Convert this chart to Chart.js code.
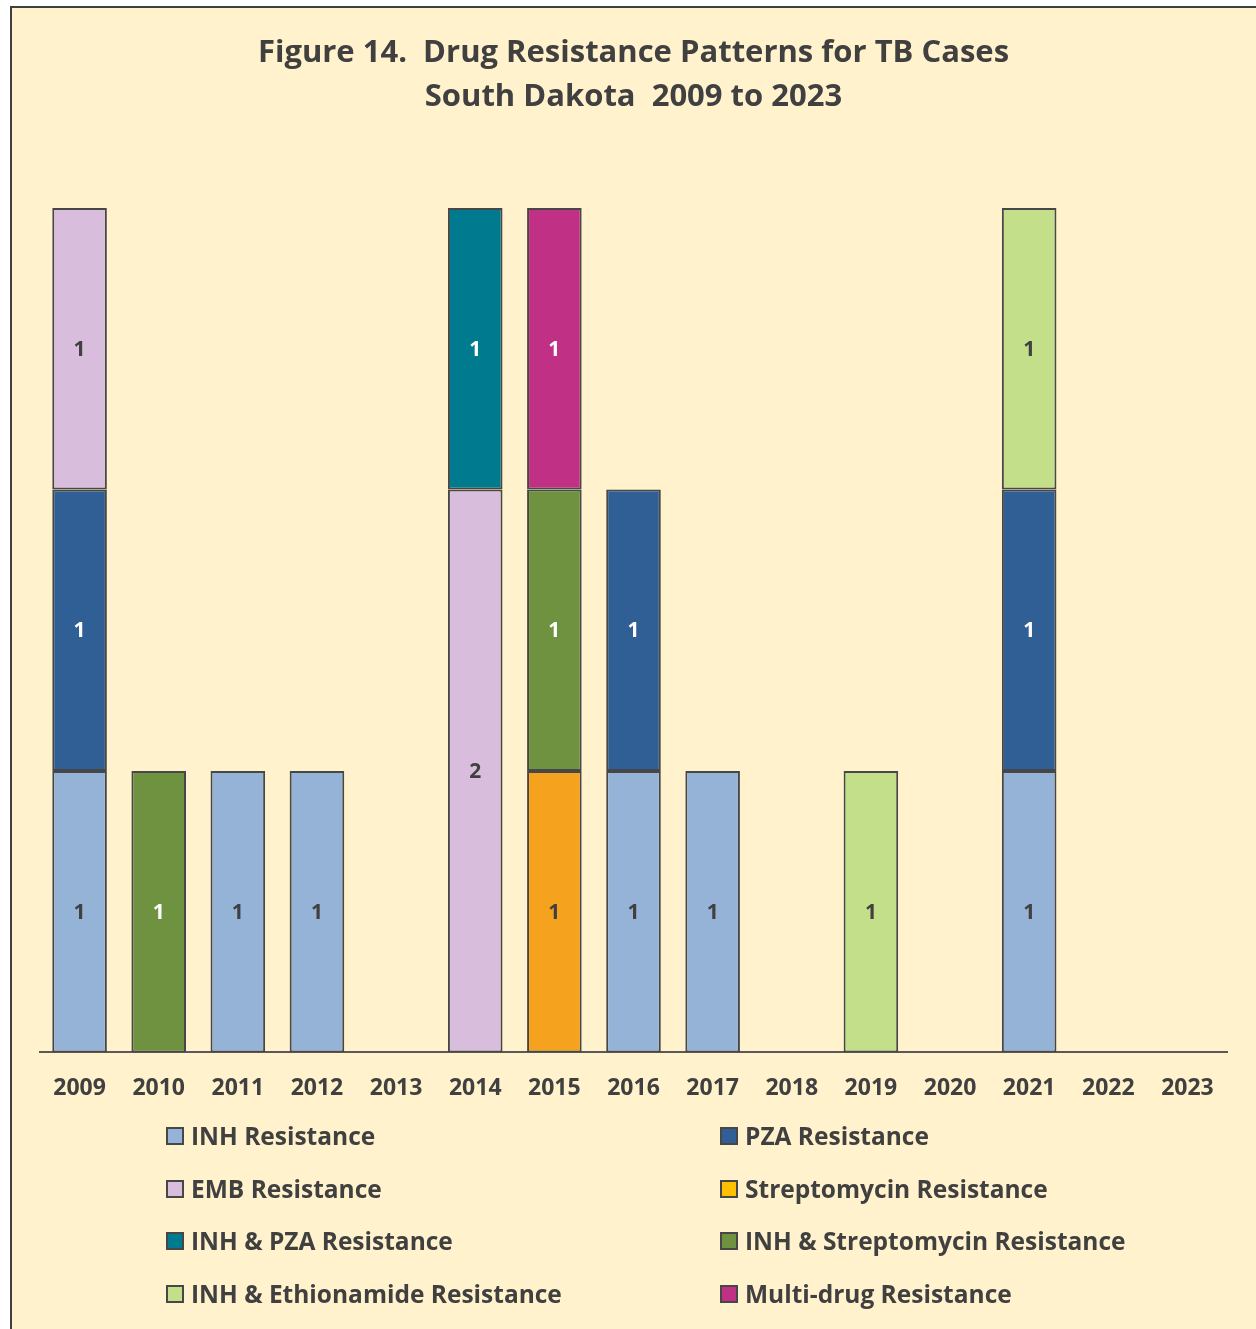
<!DOCTYPE html>
<html>
<head>
<meta charset="utf-8">
<script src="https://cdn.jsdelivr.net/npm/chart.js@4"></script>
<style>
  html, body { margin: 0; padding: 0; background: #ffffff; overflow: hidden; }
  #frame { position: absolute; left: 10px; top: 6px; width: 1300px; height: 1400px;
           border: 2px solid #404040; background: #FFF2CC; }
  #wrap { position: absolute; left: 0; top: 0; width: 1256px; height: 1329px; }
</style>
</head>
<body>
<div id="frame"></div>
<div id="wrap"><canvas id="chart" width="1256" height="1329"></canvas></div>
<script>
const years = ['2009','2010','2011','2012','2013','2014','2015','2016','2017','2018','2019','2020','2021','2022','2023']

const inh      = [1, null, 1, 1, null, null, null, 1, 1, null, null, null, 1, null, null]
const pza      = [1, null, null, null, null, null, null, 1, null, null, null, null, 1, null, null]
const emb      = [1, null, null, null, null, 2, null, null, null, null, null, null, null, null, null]
const strep    = [null, null, null, null, null, null, 1, null, null, null, null, null, null, null, null]
const inhPza   = [null, null, null, null, null, 1, null, null, null, null, null, null, null, null, null]
const inhStrep = [null, 1, null, null, null, null, 1, null, null, null, null, null, null, null, null]
const inhEth   = [null, null, null, null, null, null, null, null, null, null, 1, null, 1, null, null]
const multi    = [null, null, null, null, null, null, 1, null, null, null, null, null, null, null, null]

const FONT = '"Open Sans", Lato, sans-serif'
const TEXT = '#404040'

const mk = (label, data, color, labelColor, legendColor) => ({
  label, data,
  backgroundColor: color,
  borderColor: '#474747',
  borderWidth: 2,
  borderSkipped: false,
  barPercentage: 0.69,
  categoryPercentage: 1,
  labelColor,
  legendColor: legendColor || color
})

const datasets = [
  mk('INH Resistance', inh, '#95B3D7', TEXT),
  mk('PZA Resistance', pza, '#2F5F94', '#ffffff'),
  mk('EMB Resistance', emb, '#D8BDDD', TEXT),
  mk('Streptomycin Resistance', strep, '#F5A21E', TEXT, '#FFC000'),
  mk('INH & PZA Resistance', inhPza, '#007A8E', '#ffffff'),
  mk('INH & Streptomycin Resistance', inhStrep, '#6F9241', '#ffffff'),
  mk('INH & Ethionamide Resistance', inhEth, '#C3DF8A', TEXT),
  mk('Multi-drug Resistance', multi, '#C03084', '#ffffff')
]

// values drawn in the middle of each segment
const valueLabels = {
  id: 'valueLabels',
  afterDatasetsDraw(chart) {
    const ctx = chart.ctx
    ctx.save()
    ctx.font = 'bold 21px ' + FONT
    ctx.textAlign = 'center'
    ctx.textBaseline = 'middle'
    chart.data.datasets.forEach((ds, i) => {
      chart.getDatasetMeta(i).data.forEach((bar, j) => {
        const v = ds.data[j]
        if (v == null) return
        ctx.fillStyle = ds.labelColor
        ctx.fillText(String(v), bar.x, (bar.y + bar.base) / 2 + 1)
      })
    })
    ctx.restore()
  }
}

// two column legend under the axis
const gridLegend = {
  id: 'gridLegend',
  afterDraw(chart) {
    const ctx = chart.ctx
    const colX = [167, 721]
    const rowY = [1136, 1189, 1241, 1294]
    ctx.save()
    ctx.font = 'bold 24.5px ' + FONT
    ctx.textBaseline = 'middle'
    ctx.textAlign = 'left'
    chart.data.datasets.forEach((ds, i) => {
      const x = colX[i % 2], y = rowY[Math.floor(i / 2)]
      ctx.fillStyle = ds.legendColor
      ctx.fillRect(x, y - 8, 16, 16)
      ctx.lineWidth = 2
      ctx.strokeStyle = '#474747'
      ctx.strokeRect(x, y - 8, 16, 16)
      ctx.fillStyle = TEXT
      ctx.fillText(ds.label, x + 24, y + 2)
    })
    ctx.restore()
  }
}

new Chart(document.getElementById('chart'), {
  type: 'bar',
  data: { labels: years, datasets },
  plugins: [valueLabels, gridLegend],
  options: {
    responsive: false,
    animation: false,
    layout: { padding: { left: 40, right: 29, top: 0, bottom: 205 } },
    plugins: {
      legend: { display: false },
      tooltip: { enabled: false },
      title: {
        display: true,
        text: ['Figure 14.  Drug Resistance Patterns for TB Cases', 'South Dakota  2009 to 2023'],
        color: TEXT,
        font: { family: FONT, size: 31, weight: 'bold', lineHeight: 1.42 },
        padding: { top: 31, bottom: 89 }
      }
    },
    scales: {
      x: {
        stacked: true,
        grid: { display: false, drawTicks: false },
        border: { display: true, color: '#595959', width: 2 },
        ticks: { color: TEXT, font: { family: FONT, size: 23, weight: 'bold' }, padding: 22 }
      },
      y: {
        stacked: true,
        display: false,
        min: 0,
        max: 3
      }
    }
  }
})
</script>
</body>
</html>
